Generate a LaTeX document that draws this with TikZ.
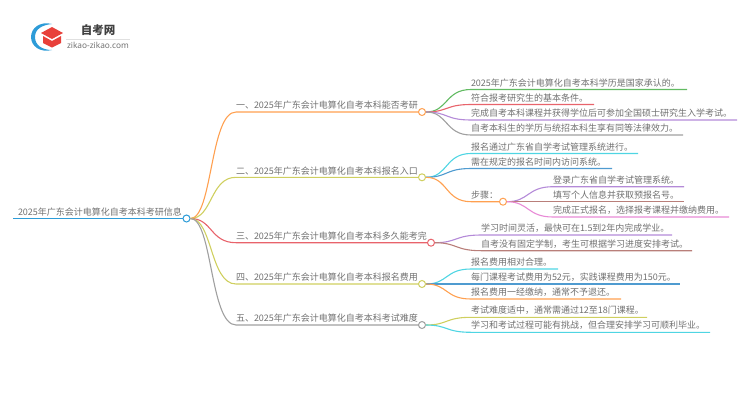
\documentclass[tikz,border=0pt]{standalone}
\usepackage{fontspec}
\usetikzlibrary{calc}
\setmainfont{Noto Sans CJK SC}
\setsansfont{Noto Sans}
\definecolor{txtgray}{HTML}{707070}
\definecolor{corange}{HTML}{FFA050}
\definecolor{colive}{HTML}{CFCF5F}
\definecolor{cred}{HTML}{E8636B}
\definecolor{cgray}{HTML}{A0A0A0}
\definecolor{cgreen}{HTML}{62BB62}
\definecolor{cpurple}{HTML}{B48AD8}
\definecolor{ccyan}{HTML}{4FD5E3}
\definecolor{cblue}{HTML}{4F9BD0}
\definecolor{cbrown}{HTML}{B97F7A}
\definecolor{cpink}{HTML}{E88AD6}
\definecolor{logoblue}{HTML}{2D9CD8}
\definecolor{logored}{HTML}{E8403A}
\tikzset{
  item/.style={anchor=south west,inner xsep=0pt,inner ysep=2.4pt,outer sep=0pt,
    text=txtgray,font=\fontsize{9}{10}\selectfont},
  dot/.style={circle,draw=#1,fill=white,line width=1pt,minimum size=7pt,inner sep=0pt},
  wire/.style={line width=1.1pt,#1},
}
\newcommand{\curveto}[3]{% dot, node, colour
  \draw[wire=#3] (#1.east) .. controls +(22pt,0pt) and ($(#2.south west)+(-26pt,0pt)$) .. (#2.south west) -- (#2.south east);
}
\begin{document}
\begin{tikzpicture}[x=1pt,y=-1pt]
\useasboundingbox (0,0) rectangle (750,410);
% logo
\fill[logoblue] (52,24) .. controls (40,21) and (31,28) .. (31,37) .. controls (31,46) and (40,53) .. (52,50)
  .. controls (42,50) and (35,45) .. (35,37) .. controls (35,29) and (42,25) .. (52,24) -- cycle;
\fill[logored] (52,27) -- (63,33) -- (52,39) -- (41,33) -- cycle;
\fill[logored] (43,36) -- (52,41) -- (61,36) -- (61,43) -- (52,47.5) -- (43,43) -- cycle;
\node[text=black!75,font=\bfseries\fontsize{11.5}{12}\selectfont] (logotitle) at (98,30.5) {自考网};
\node[text=txtgray,font=\sffamily\fontsize{8.3}{9}\selectfont] (logourl) at (98,45) {zikao-zikao.com};
\draw[black!12,line width=.5pt] (66,39) -- (130,39);
% centre
\node[item,text width=168pt] (root) at (18,218.5) {2025年广东会计电算化自考本科考研信息};
\node[dot=logoblue] (rootdot) at (186.5,218.5) {};
\coordinate (rootleft) at (13,218.5);
% main branches
\node[item,text width=186pt] (one) at (236,112) {一、2025年广东会计电算化自考本科能否考研};
\node[item,text width=186pt] (two) at (236,177.3) {二、2025年广东会计电算化自考本科报名入口};
\node[item,text width=195pt] (three) at (236,242.7) {三、2025年广东会计电算化自考本科多久能考完};
\node[item,text width=186pt] (four) at (236,284) {四、2025年广东会计电算化自考本科报名费用};
\node[item,text width=186pt] (five) at (236,325) {五、2025年广东会计电算化自考本科考试难度};
\draw[wire=logoblue] (rootleft) -- (rootdot.west);
\curveto{rootdot}{one}{corange}
\curveto{rootdot}{two}{colive}
\curveto{rootdot}{three}{cred}
\curveto{rootdot}{four}{colive}
\curveto{rootdot}{five}{cgray}
% first group
\node[item,text width=216pt] (a1) at (471,89.5) {2025年广东会计电算化自考本科学历是国家承认的。};
\node[item,text width=123pt] (a2) at (471,104.5) {符合报考研究生的基本条件。};
\node[item,text width=266pt] (a3) at (471,120) {完成自考本科课程并获得学位后可参加全国硕士研究生入学考试。};
\node[item,text width=212pt] (a4) at (471,135) {自考本科生的学历与统招本科生享有同等法律效力。};
\node[dot=corange] (onedot) at (422,112) {};
\curveto{onedot}{a1}{cgreen}
\curveto{onedot}{a2}{cred}
\curveto{onedot}{a3}{cpurple}
\curveto{onedot}{a4}{cgray}
% second group
\node[item,text width=167pt] (b1) at (471,153.5) {报名通过广东省自学考试管理系统进行。};
\node[item,text width=141pt] (b2) at (471,168.5) {需在规定的报名时间内访问系统。};
\node[item,text width=28pt] (b3) at (471,201.7) {步骤：};
\node[dot=colive] (twodot) at (422,177.3) {};
\curveto{twodot}{b1}{ccyan}
\curveto{twodot}{b2}{cblue}
\curveto{twodot}{b3}{corange}
\node[dot=corange] (stepdot) at (503,201.7) {};
\draw[wire=corange] (b3.south east) -- (stepdot.west);
\node[item,text width=131pt] (c1) at (553,186.7) {登录广东省自学考试管理系统。};
\node[item,text width=131pt] (c2) at (553,201.7) {填写个人信息并获取预报名号。};
\node[item,text width=176pt] (c3) at (553,217) {完成正式报名，选择报考课程并缴纳费用。};
\curveto{stepdot}{c1}{cpurple}
\curveto{stepdot}{c2}{cbrown}
\curveto{stepdot}{c3}{cpink}
% third group
\node[item,text width=191pt] (d1) at (481,235) {学习时间灵活，最快可在1.5到2年内完成学业。};
\node[item,text width=211pt] (d2) at (481,250.7) {自考没有固定学制，考生可根据学习进度安排考试。};
\node[dot=cred] (threedot) at (431,242.7) {};
\curveto{threedot}{d1}{cpurple}
\curveto{threedot}{d2}{cbrown}
% fourth group
\node[item,text width=87pt] (e1) at (471,269) {报名费用相对合理。};
\node[item,text width=209pt] (e2) at (471,284) {每门课程考试费用为52元，实践课程费用为150元。};
\node[item,text width=150pt] (e3) at (471,299) {报名费用一经缴纳，通常不予退还。};
\node[dot=colive] (fourdot) at (422,284) {};
\curveto{fourdot}{e1}{ccyan}
\curveto{fourdot}{e2}{cblue}
\curveto{fourdot}{e3}{corange}
% fifth group
\node[item,text width=176pt] (f1) at (471,317.3) {考试难度适中，通常需通过12至18门课程。};
\node[item,text width=239pt] (f2) at (471,332.3) {学习和考试过程可能有挑战，但合理安排学习可顺利毕业。};
\node[dot=cgray] (fivedot) at (422,325) {};
\curveto{fivedot}{f1}{colive}
\curveto{fivedot}{f2}{ccyan}
\end{tikzpicture}
\end{document}
